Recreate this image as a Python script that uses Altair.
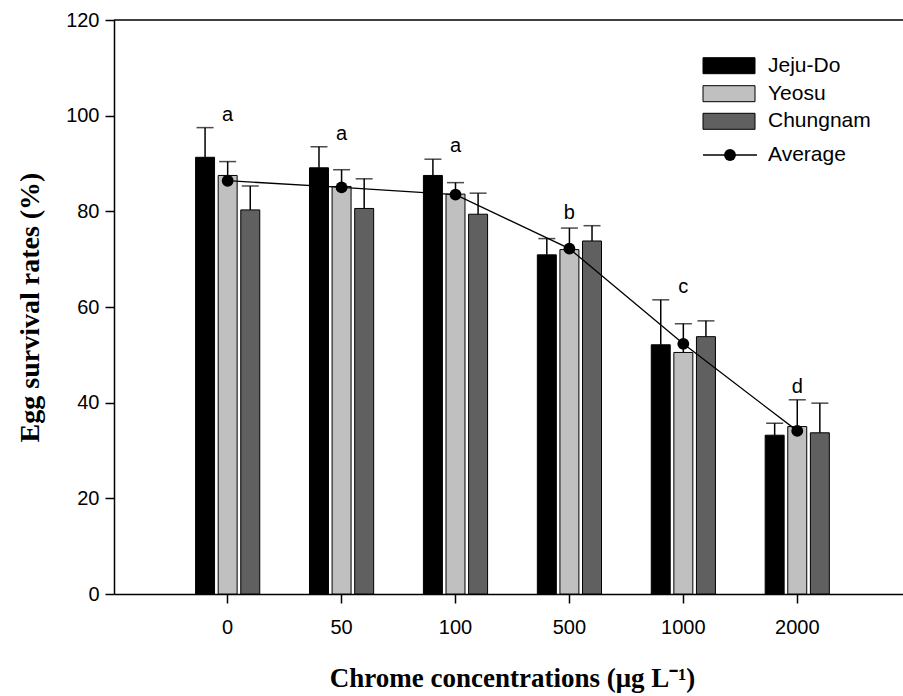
import altair as alt
import pandas as pd

# Chrome concentration groups (µg/L) and sampling sites
concentrations = ["0", "50", "100", "500", "1000", "2000"]
sites = ["Jeju-Do", "Yeosu", "Chungnam"]
site_colors = ["#000000", "#c0c0c0", "#606060"]

# Egg survival (%) per site: mean and standard deviation
jeju_mean = [91.3, 89.1, 87.5, 70.9, 52.1, 33.2]
jeju_err = [6.2, 4.4, 3.4, 3.4, 9.4, 2.5]
yeosu_mean = [87.5, 85.2, 83.6, 72.0, 50.5, 35.0]
yeosu_err = [2.9, 3.5, 2.4, 4.5, 6.0, 5.6]
chungnam_mean = [80.3, 80.6, 79.4, 73.8, 53.8, 33.7]
chungnam_err = [5.0, 6.2, 4.4, 3.2, 3.3, 6.2]

# Mean over the three sites, with significance letters
average = [86.4, 85.0, 83.5, 72.2, 52.3, 34.1]
letters = ["a", "a", "a", "b", "c", "d"]

rows = []
for site, means, errs in zip(sites, [jeju_mean, yeosu_mean, chungnam_mean],
                             [jeju_err, yeosu_err, chungnam_err]):
    for c, m, e in zip(concentrations, means, errs):
        rows.append({"conc": c, "site": site, "mean": m, "top": m + e})
bars_df = pd.DataFrame(rows)

tops = bars_df.groupby("conc")["top"].max()
avg_df = pd.DataFrame({
    "conc": concentrations,
    "avg": average,
    "letter": letters,
    "letter_y": [tops[c] for c in concentrations],
})

W, H = 789, 574
SANS = "Liberation Sans"
SERIF = "Liberation Serif"

x_enc = alt.X(
    "conc:N",
    sort=concentrations,
    scale=alt.Scale(paddingInner=0.04, paddingOuter=0.483, align=0.536),
    axis=alt.Axis(
        title="Chrome concentrations (\u03bcg L\u207b\u00b9)",
        labelAngle=0,
        labelPadding=14,
        titleX=398,
        titleY=84,
        titleFontSize=27,
        titleBaseline="middle",
        titleAlign="center",
    ),
)
xoff_enc = alt.XOffset("site:N", sort=sites,
                       scale=alt.Scale(paddingInner=0.16, paddingOuter=1))
y_scale = alt.Scale(domain=[0, 120], nice=False)
y_axis = alt.Axis(
    values=[0, 20, 40, 60, 80, 100, 120],
    title="Egg survival rates (%)",
    grid=False,
    labelPadding=6,
    titleX=-84,
    titleY=H / 2,
    titleAngle=-90,
    titleAlign="center",
    titleBaseline="middle",
)

base = alt.Chart(bars_df)

bars = base.mark_bar(stroke="black", strokeWidth=1).encode(
    x=x_enc,
    xOffset=xoff_enc,
    y=alt.Y("mean:Q", scale=y_scale, axis=y_axis),
    color=alt.Color("site:N", scale=alt.Scale(domain=sites, range=site_colors), legend=None),
)

err_rule = base.mark_rule(color="black", strokeWidth=1.5).encode(
    x=alt.X("conc:N", sort=concentrations),
    xOffset=alt.XOffset("site:N", sort=sites),
    y=alt.Y("mean:Q"),
    y2="top:Q",
)

err_cap = base.mark_tick(color="black", thickness=1.5, size=17, orient="horizontal").encode(
    x=alt.X("conc:N", sort=concentrations),
    xOffset=alt.XOffset("site:N", sort=sites),
    y=alt.Y("top:Q"),
)

avg_base = alt.Chart(avg_df)
avg_line = avg_base.mark_line(color="black", strokeWidth=1.3).encode(
    x=alt.X("conc:N", sort=concentrations),
    y=alt.Y("avg:Q"),
)
avg_pts = avg_base.mark_circle(size=140, color="black", opacity=1).encode(
    x=alt.X("conc:N", sort=concentrations),
    y=alt.Y("avg:Q"),
)
letter_txt = avg_base.mark_text(font=SANS, fontSize=20, dy=-13, baseline="middle", color="black").encode(
    x=alt.X("conc:N", sort=concentrations),
    y=alt.Y("letter_y:Q"),
    text="letter:N",
)

top_rule = alt.Chart(pd.DataFrame({"v": [120]})).mark_rule(color="black", strokeWidth=1.5).encode(
    y=alt.Y("v:Q")
)

# Hand-placed legend box in the upper right of the plot
legend_layers = []
row_y = [37.7, 65.7, 93.3]
for site, col, ry in zip(sites, site_colors, row_y):
    one = alt.Chart(pd.DataFrame({"label": [site]}))
    legend_layers.append(one.mark_rect(fill=col, stroke="black", strokeWidth=1).encode(
        x=alt.value(589), x2=alt.value(641), y=alt.value(ry), y2=alt.value(ry + 16)))
    legend_layers.append(one.mark_text(font=SANS, fontSize=21, align="left", baseline="middle",
                                       color="black").encode(
        x=alt.value(654), y=alt.value(ry + 8), text="label:N"))
avg_leg = alt.Chart(pd.DataFrame({"label": ["Average"]}))
legend_layers.append(avg_leg.mark_rule(color="black", strokeWidth=1.3).encode(
    x=alt.value(589), x2=alt.value(643), y=alt.value(135)))
legend_layers.append(avg_leg.mark_circle(size=140, color="black", opacity=1).encode(
    x=alt.value(616), y=alt.value(135)))
legend_layers.append(avg_leg.mark_text(font=SANS, fontSize=21, align="left", baseline="middle",
                                       color="black").encode(
    x=alt.value(654), y=alt.value(135), text="label:N"))

chart = alt.layer(
    bars, err_rule, err_cap, avg_line, avg_pts, letter_txt, top_rule, *legend_layers
).properties(
    width=W,
    height=H,
    autosize=alt.AutoSizeParams(type="none"),
    padding={"left": 114, "top": 20, "right": 0, "bottom": 102},
).configure_view(
    stroke=None
).configure_axis(
    domainColor="black",
    domainWidth=1.5,
    tickColor="black",
    tickWidth=1.5,
    tickSize=9,
    labelFont=SANS,
    labelFontSize=20,
    labelColor="black",
    titleFont=SERIF,
    titleFontWeight="bold",
    titleFontSize=28,
    titleColor="black",
)

chart.save("out.html", embed_options={"renderer": "svg", "actions": False})
